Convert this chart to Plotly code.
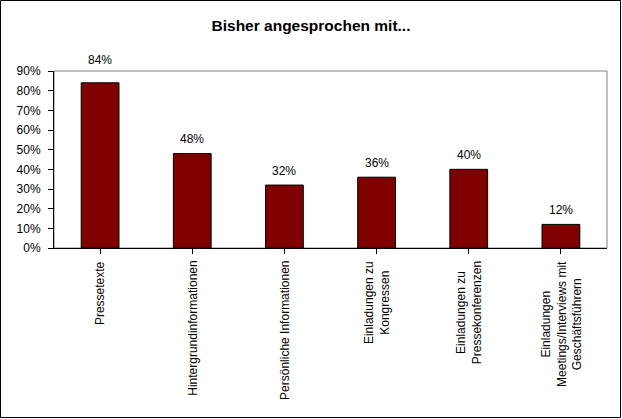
import plotly.graph_objects as go

categories = [
    "Pressetexte",
    "Hintergrundinformationen",
    "Persönliche Informationen",
    "Einladungen zu<br>Kongressen",
    "Einladungen zu<br>Pressekonferenzen",
    "Einladungen<br>Meetings/Interviews mit<br>Geschäftsführern",
]
values = [0.84, 0.48, 0.32, 0.36, 0.40, 0.12]
y_ticks = [0, 0.1, 0.2, 0.3, 0.4, 0.5, 0.6, 0.7, 0.8, 0.9]
y_tick_labels = ["0%", "10%", "20%", "30%", "40%", "50%", "60%", "70%", "80%", "90%"]
title_text = "Bisher angesprochen mit..."

W, H = 622, 419
ML, MR, MT, MB = 54, 15, 71, 171
pw = W - ML - MR
ph = H - MT - MB
YMAX = 0.9

FONT = "Liberation Sans, Arial, sans-serif"

fig = go.Figure()
fig.add_trace(go.Bar(
    x=list(range(len(categories))),
    y=values,
    marker=dict(color="#800000", line=dict(color="#000000", width=1)),
    width=0.41,
    hoverinfo="skip",
))

annotations = []
for i, v in enumerate(values):
    # label center normally ~13 px above bar top; if that collides with
    # the plot-area top border, lift it above the border
    top_px = ph * (1 - v / YMAX)          # distance from plot top, px
    center_px = top_px - 13
    if center_px < 12:
        center_px = -9
    shift = top_px - center_px - 7.5
    annotations.append(dict(
        x=i, y=v, xref="x", yref="y",
        text=f"{round(v*100)}%",
        showarrow=False, yanchor="bottom", yshift=shift,
        font=dict(family=FONT, size=12, color="#000000"),
    ))
for i, c in enumerate(categories):
    annotations.append(dict(
        x=i, y=0, xref="x", yref="y",
        text=c, textangle=-90, align="center",
        showarrow=False, xanchor="center", yanchor="top", yshift=-11,
        font=dict(family=FONT, size=12, color="#000000"),
    ))

shapes = [
    dict(type="rect", xref="paper", yref="paper", x0=0, y0=0, x1=1, y1=1,
         line=dict(color="#808080", width=1), layer="below"),
    dict(type="rect", xref="paper", yref="paper",
         x0=-(ML - 0.5) / pw, x1=1 + (MR - 1.5) / pw,
         y0=-(MB - 1.5) / ph, y1=1 + (MT - 0.5) / ph,
         line=dict(color="#000000", width=1)),
]

fig.update_layout(
    width=W, height=H,
    margin=dict(l=ML, r=MR, t=MT, b=MB, pad=0),
    paper_bgcolor="#ffffff", plot_bgcolor="#ffffff",
    showlegend=False,
    title=dict(text=f"<b>{title_text}</b>", x=0.5, xanchor="center",
               y=1 - 25.5 / H, yanchor="middle", yref="container",
               font=dict(family=FONT, size=15.5, color="#000000")),
    xaxis=dict(
        range=[-0.5, len(categories) - 0.5],
        tickmode="array", tickvals=list(range(len(categories))),
        showticklabels=False,
        tickson="boundaries", ticks="outside", ticklen=5,
        tickcolor="#000000", showline=True, linecolor="#000000", linewidth=1,
        showgrid=False, zeroline=False,
    ),
    yaxis=dict(
        range=[0, YMAX], tickmode="array", tickvals=y_ticks, ticktext=y_tick_labels,
        ticks="outside", ticklen=5, tickcolor="#000000",
        showline=True, linecolor="#000000", linewidth=1,
        showgrid=False, zeroline=False, ticklabelstandoff=5,
        tickfont=dict(family=FONT, size=12, color="#000000"),
    ),
    annotations=annotations,
    shapes=shapes,
)

fig.write_html("out.html")
